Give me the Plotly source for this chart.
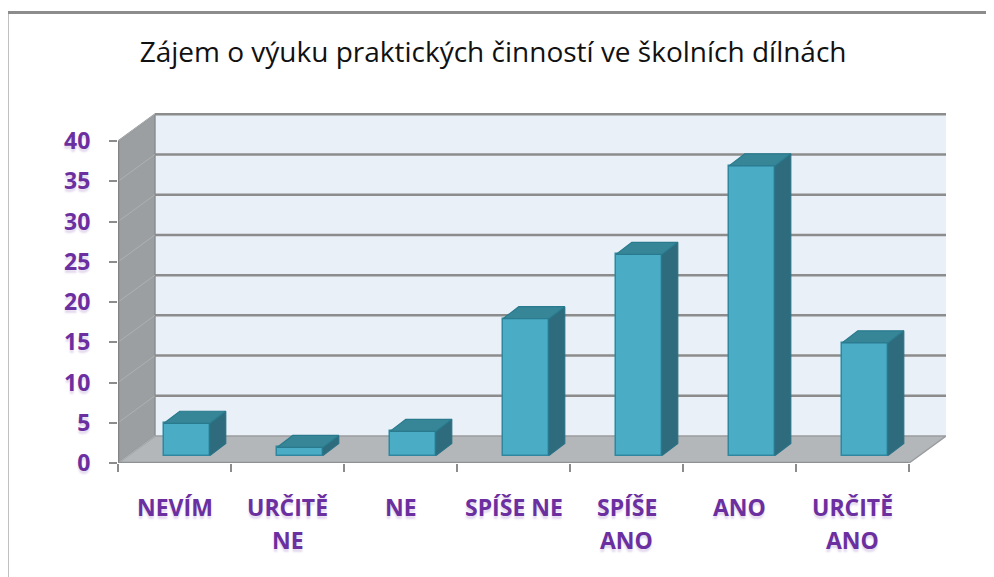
import plotly.graph_objects as go

# ---- data ----
categories = ["NEVÍM", "URČITĚ NE", "NE", "SPÍŠE NE", "SPÍŠE ANO", "ANO", "URČITĚ ANO"]
label_lines = [["NEVÍM"], ["URČITĚ", "NE"], ["NE"], ["SPÍŠE NE"], ["SPÍŠE", "ANO"], ["ANO"], ["URČITĚ", "ANO"]]
values = [4, 1, 3, 17, 25, 36, 14]
y_ticks = [0, 5, 10, 15, 20, 25, 30, 35, 40]
title_text = "Zájem o výuku praktických činností ve školních dílnách"

# ---- 3D geometry (data units) ----
WALL_DX, WALL_DY = 0.327, 3.35
BAR_SHIFT_X, BAR_BASE = 0.11, 0.93
BAR_W = 0.407
DEPTH_DX, DEPTH_DY = 0.14, 1.5
N = len(categories)
X0 = -0.5
X1 = N - 0.5
X_MAX = X1 + WALL_DX
Y_TOP = max(y_ticks)
Y_MAX = Y_TOP + WALL_DY + 0.15

PURPLE = "#6b2fa0"
FONT = "Open Sans"
shadow = "0px 3px 2px rgba(107,47,160,0.18)"

idx = list(range(N))
fig = go.Figure()

# front faces
fig.add_trace(go.Bar(
    x=[i + BAR_SHIFT_X for i in idx], y=values, base=[BAR_BASE] * N, width=BAR_W,
    marker=dict(color="#4bacc6", line=dict(color="#2f879f", width=1.5)),
    hoverinfo="skip", showlegend=False))

# top and side faces
top_x, top_y, side_x, side_y = [], [], [], []
for i, v in zip(idx, values):
    xl = i + BAR_SHIFT_X - BAR_W / 2
    xr = i + BAR_SHIFT_X + BAR_W / 2
    yt = BAR_BASE + v
    top_x += [xl, xr, xr + DEPTH_DX, xl + DEPTH_DX, xl, None]
    top_y += [yt, yt, yt + DEPTH_DY, yt + DEPTH_DY, yt, None]
    side_x += [xr, xr, xr + DEPTH_DX, xr + DEPTH_DX, xr, None]
    side_y += [BAR_BASE, yt, yt + DEPTH_DY, BAR_BASE + DEPTH_DY, BAR_BASE, None]
fig.add_trace(go.Scatter(x=side_x, y=side_y, fill="toself", fillcolor="#2e6b7d",
                         mode="lines", line=dict(color="#2a7186", width=1.2),
                         hoverinfo="skip", showlegend=False))
fig.add_trace(go.Scatter(x=top_x, y=top_y, fill="toself", fillcolor="#368698",
                         mode="lines", line=dict(color="#2a7a8e", width=1.2),
                         hoverinfo="skip", showlegend=False))

def path(pts):
    return "M " + " L ".join(f"{x},{y}" for x, y in pts) + " Z"

shapes = []
# back wall
shapes.append(dict(type="rect", xref="x", yref="y", layer="below",
                   x0=X0 + WALL_DX, x1=X_MAX, y0=WALL_DY, y1=Y_TOP + WALL_DY,
                   fillcolor="#e9f0f7", line=dict(width=0)))
# left wall
shapes.append(dict(type="path", xref="x", yref="y", layer="below",
                   path=path([(X0, 0), (X0, Y_TOP), (X0 + WALL_DX, Y_TOP + WALL_DY), (X0 + WALL_DX, WALL_DY)]),
                   fillcolor="#9b9fa2", line=dict(color="#8a8d90", width=1.5)))
# floor
shapes.append(dict(type="path", xref="x", yref="y", layer="below",
                   path=path([(X0, 0), (X1, 0), (X1 + WALL_DX, WALL_DY), (X0 + WALL_DX, WALL_DY)]),
                   fillcolor="#b4b7ba", line=dict(color="#9a9da0", width=1.5)))
# gridlines
for v in y_ticks:
    if v > 0:
        shapes.append(dict(type="line", xref="x", yref="y", layer="below",
                           x0=X0 + WALL_DX, x1=X_MAX, y0=v + WALL_DY, y1=v + WALL_DY,
                           line=dict(color="#8c8c8c", width=2.5)))
    shapes.append(dict(type="line", xref="x", yref="y", layer="below",
                       x0=X0, x1=X0 + WALL_DX, y0=v, y1=v + WALL_DY,
                       line=dict(color="#aeb1b4", width=1)))
# front-left edge (axis line) and floor front edge
shapes.append(dict(type="line", xref="x", yref="y", layer="below",
                   x0=X0, x1=X0, y0=0, y1=Y_TOP, line=dict(color="#858585", width=2.5)))
shapes.append(dict(type="line", xref="x", yref="y", layer="below",
                   x0=X0, x1=X1, y0=0, y1=0, line=dict(color="#8f9294", width=2.5)))
# outer frame
shapes.append(dict(type="rect", xref="paper", yref="paper",
                   x0=-0.134, x1=1.07, y0=-0.37, y1=1.287,
                   line=dict(color="#8c8c8c", width=3), fillcolor="rgba(0,0,0,0)"))

annotations = []
for i, lines in zip(idx, label_lines):
    for k, t in enumerate(lines):
        annotations.append(dict(x=i, y=0, xref="x", yref="y", text=t, showarrow=False,
                                yanchor="middle", xanchor="center", yshift=-44 - 33 * k,
                                font=dict(family=FONT, size=23, color=PURPLE, weight="bold",
                                          shadow=shadow)))

fig.update_layout(
    width=994, height=577,
    margin=dict(l=110, r=56, t=105, b=122),
    paper_bgcolor="white", plot_bgcolor="white",
    title=dict(text=title_text, x=0.488, xref="container", xanchor="center",
               y=0.924, yref="container", yanchor="middle",
               font=dict(family=FONT, size=28, color="#111111")),
    xaxis=dict(range=[X0, X_MAX], tickvals=[b - 0.5 for b in range(N + 1)],
               showticklabels=False, ticks="outside", ticklen=8, tickwidth=2,
               tickcolor="#8c8c8c", showgrid=False, zeroline=False, showline=False,
               fixedrange=True),
    yaxis=dict(range=[0, Y_MAX], tickvals=y_ticks, ticks="outside", ticklen=8, tickwidth=2,
               tickcolor="#8c8c8c", showgrid=False, zeroline=False, showline=False,
               ticklabelstandoff=14,
               tickfont=dict(family=FONT, size=23, color=PURPLE, weight="bold", shadow=shadow),
               fixedrange=True),
    shapes=shapes, annotations=annotations, bargap=0, showlegend=False,
)

fig.write_html("out.html")
